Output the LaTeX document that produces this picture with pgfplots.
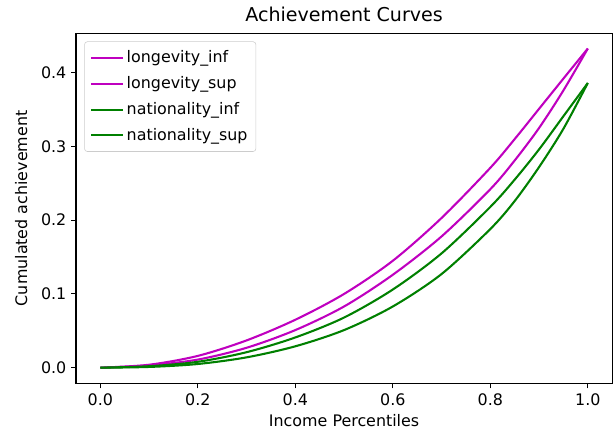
\documentclass[border=0pt]{standalone}
\usepackage{pgfplots}
\pgfplotsset{compat=1.18}
\usepackage{fontspec}
\setmainfont{DejaVu Sans}
\definecolor{mplm}{rgb}{0.75,0,0.75}
\definecolor{mplg}{rgb}{0,0.5,0}
\begin{document}
\begin{tikzpicture}
\begin{axis}[
    scale only axis,
    width=388pt, height=253.6pt,
    xmin=-0.05, xmax=1.05,
    ymin=-0.0216, ymax=0.4536,
    xtick={0,0.2,0.4,0.6,0.8,1.0},
    ytick={0,0.1,0.2,0.3,0.4},
    tick align=outside, tick pos=left,
    major tick length=3.5pt,
    axis line style={line width=0.8pt},
    every tick/.style={black, line width=0.8pt},
    /pgf/number format/assume math mode=true,
    /pgf/number format/fixed, /pgf/number format/fixed zerofill,
    /pgf/number format/precision=1,
    tick label style={font=\fontsize{11.5}{13}\selectfont},
    label style={font=\fontsize{11.5}{13}\selectfont},
    ylabel style={yshift=3pt},
    xlabel={Income Percentiles},
    ylabel={Cumulated achievement},
    title={Achievement Curves},
    title style={font=\fontsize{13.8}{15}\selectfont, yshift=-1pt},
    legend style={at={(0,1)}, anchor=north west, xshift=6pt, yshift=-6pt,
        draw=black!20, rounded corners=2pt, fill=white,
        font=\fontsize{11.5}{13}\selectfont, row sep=4.5pt,
        inner xsep=4pt, inner ysep=4.5pt},
    legend cell align=left,
    legend image code/.code={\draw[#1] (0pt,0pt) -- (23pt,0pt);},
    every axis plot/.append style={line width=1.5pt, smooth},
]
\addplot[mplm] coordinates {
 (0,0) (0.1,0.003) (0.2,0.011) (0.3,0.027) (0.4,0.051) (0.5,0.083)
 (0.6,0.126) (0.7,0.178) (0.8,0.242) (0.85,0.281) (0.9,0.325) (0.95,0.376) (1,0.4327)
};
\addlegendentry{longevity\_inf}
\addplot[mplm] coordinates {
 (0,0) (0.1,0.004) (0.2,0.016) (0.3,0.037) (0.4,0.065) (0.5,0.100)
 (0.6,0.145) (0.7,0.203) (0.8,0.271) (0.85,0.310) (0.9,0.351) (0.95,0.392) (1,0.4327)
};
\addlegendentry{longevity\_sup}
\addplot[mplg] coordinates {
 (0,0) (0.1,0.001) (0.2,0.005) (0.3,0.014) (0.4,0.029) (0.5,0.051)
 (0.6,0.083) (0.7,0.127) (0.8,0.188) (0.85,0.226) (0.9,0.272) (0.95,0.324) (1,0.386)
};
\addlegendentry{nationality\_inf}
\addplot[mplg] coordinates {
 (0,0) (0.1,0.002) (0.2,0.008) (0.3,0.021) (0.4,0.041) (0.5,0.068)
 (0.6,0.106) (0.7,0.155) (0.8,0.218) (0.85,0.255) (0.9,0.296) (0.95,0.341) (1,0.386)
};
\addlegendentry{nationality\_sup}
\end{axis}
\pgfresetboundingbox
\path[use as bounding box] ([xshift=-55pt,yshift=-37.7pt]current axis.south west)
  rectangle ([xshift=0.6pt,yshift=24pt]current axis.north east);
\end{tikzpicture}
\end{document}
